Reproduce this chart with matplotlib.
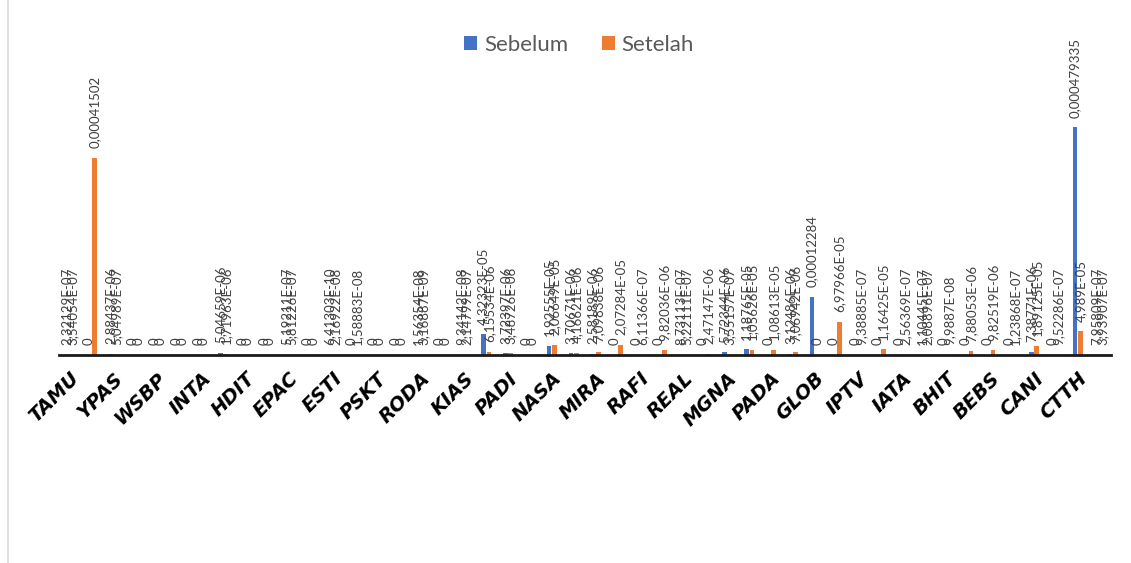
import numpy as np
import matplotlib
matplotlib.use("Agg")
import matplotlib.pyplot as plt
from matplotlib.lines import Line2D

# tick names (every other company is labelled on the axis)
tick_names = ["TAMU", "YPAS", "WSBP", "INTA", "HDIT", "EPAC", "ESTI", "PSKT",
              "RODA", "KIAS", "PADI", "NASA", "MIRA", "RAFI", "REAL", "MGNA",
              "PADA", "GLOB", "IPTV", "IATA", "BHIT", "BEBS", "CANI", "CTTH"]

sebelum = [2.32129e-07, 0, 2.88437e-06, 0, 0, 0, 0, 5.04659e-06,
           0, 0, 5.19211e-07, 0, 6.41303e-10, 0, 0, 0,
           1.56354e-08, 0, 9.34142e-08, 4.32323e-05, 3.72397e-06, 0, 1.92555e-05, 3.70671e-06,
           2.58189e-06, 0, 0, 0, 8.73113e-07, 0, 5.72344e-06, 1.18765e-05,
           0, 3.12486e-06, 0.00012284, 0, 0, 0, 0, 1.10445e-07,
           0, 0, 0, 0, 7.38771e-06, 0, 0.000479335, 7.95809e-07]

setelah = [3.54054e-07, 0.00041502, 5.04989e-07, 0, 0, 0, 0, 1.71963e-06,
           0, 0, 5.81226e-07, 0, 2.16922e-08, 1.58883e-08, 0, 0,
           3.16887e-09, 0, 2.14799e-07, 6.15534e-06, 3.48726e-06, 0, 2.06649e-05, 4.16621e-06,
           7.09838e-06, 2.07284e-05, 6.11366e-07, 9.82036e-06, 5.22111e-07, 2.47147e-06, 3.55157e-07, 1.05626e-05,
           1.08613e-05, 7.06942e-06, 0, 6.97966e-05, 9.38885e-07, 1.16425e-05, 2.56369e-07, 2.08896e-07,
           9.9887e-08, 7.88053e-06, 9.82519e-06, 1.23868e-07, 1.89125e-05, 9.52286e-07, 4.989e-05, 3.93907e-07]

BLUE = "#4472C4"
ORANGE = "#ED7D31"


def excel_fmt(v):
    # "General" number format with decimal comma
    if v == 0:
        return "0"
    if v >= 1e-4:
        s = f"{v:.10g}"
    else:
        s = f"{v:.5E}"
        mant, exp = s.split("E")
        mant = mant.rstrip("0").rstrip(".")
        s = mant + "E" + exp
    return s.replace(".", ",")


plt.rcParams["font.family"] = ["Lato", "DejaVu Sans"]

fig = plt.figure(figsize=(11.31, 5.63), dpi=100)
ax = fig.add_axes([0.052, 0.3694, 0.930, 0.5062])

x = np.arange(len(sebelum))
w = 0.22
off = 0.13
b1 = ax.bar(x - off, sebelum, w, color=BLUE, label="Sebelum")
b2 = ax.bar(x + off, setelah, w, color=ORANGE, label="Setelah")

for bars, vals in ((b1, sebelum), (b2, setelah)):
    for rect, v in zip(bars, vals):
        ax.annotate(excel_fmt(v), (rect.get_x() + rect.get_width() / 2, v),
                    xytext=(0, 7), textcoords="offset points",
                    rotation=90, ha="center", va="bottom",
                    fontsize=9.5, color="#404040")

ax.set_xlim(-0.5, len(sebelum) - 0.5)
ax.set_ylim(0, 0.0006)
ax.set_xticks(x[::2])
ax.set_xticklabels(tick_names, rotation=45, ha="right", va="top",
                   rotation_mode="anchor", fontsize=14, fontweight="bold",
                   fontstyle="italic", family=["DejaVu Sans"])
ax.tick_params(axis="x", length=0, pad=10)
ax.set_yticks([])
for side in ("top", "right", "left"):
    ax.spines[side].set_visible(False)
ax.spines["bottom"].set_linewidth(2)
ax.spines["bottom"].set_color("#1a1a1a")

fig.legend(handles=[b1, b2], labels=["Sebelum", "Setelah"], loc="center",
           bbox_to_anchor=(0.512, 0.920), ncol=2, frameon=False,
           fontsize=16, labelcolor="#595959", handlelength=0.6,
           handleheight=0.6, handletextpad=0.3, columnspacing=1.5)

# chart border on the left
fig.add_artist(Line2D([8 / 1131, 8 / 1131], [0, 1], color="#d9d9d9", lw=1.2))

fig.savefig("out.png", dpi=100)
